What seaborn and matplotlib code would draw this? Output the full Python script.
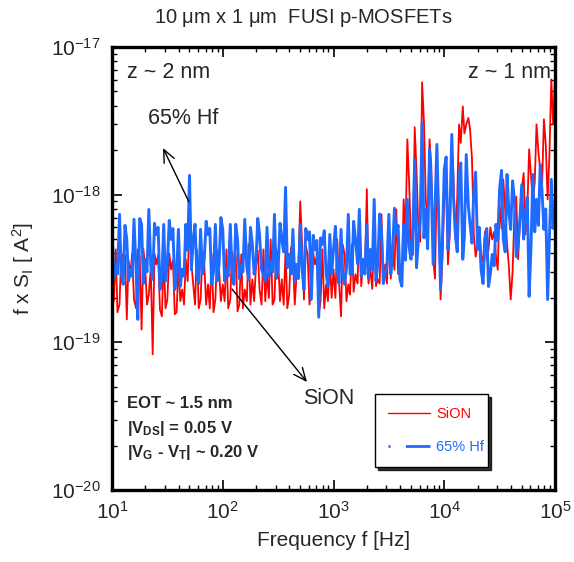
import matplotlib
matplotlib.use("Agg")
import matplotlib.pyplot as plt
from matplotlib.lines import Line2D
from matplotlib.ticker import NullFormatter, LogLocator
import seaborn as sns
import pandas as pd
import numpy as np

# ---- data ----
freq_hz = [
    10.0, 10.4, 10.8, 11.2, 11.7, 12.1, 12.6, 13.1, 13.6, 14.1, 14.7, 15.2, 15.8, 16.5, 17.1,
    17.8, 18.5, 19.2, 20.0, 20.7, 21.5, 22.4, 23.3, 24.2, 25.1, 26.1, 27.1, 28.2, 29.3, 30.4,
    31.6, 32.9, 34.1, 35.5, 36.9, 38.3, 39.8, 41.4, 43.0, 44.7, 46.4, 48.2, 50.1, 52.1, 54.1,
    56.2, 58.4, 60.7, 63.1, 65.6, 68.1, 70.8, 73.6, 76.4, 79.4, 82.5, 85.8, 89.1, 92.6, 96.2,
    100, 104, 108, 112, 117, 121, 126, 131, 136, 141, 147, 152, 158, 165, 171,
    178, 185, 192, 200, 207, 215, 224, 233, 242, 251, 261, 271, 282, 293, 304,
    316, 329, 341, 355, 369, 383, 398, 414, 430, 447, 464, 482, 501, 521, 541,
    562, 584, 607, 631, 656, 681, 708, 736, 764, 794, 825, 858, 891, 926, 962,
    1000, 1040, 1080, 1120, 1170, 1210, 1260, 1310, 1360, 1410, 1470, 1520, 1580, 1650, 1710,
    1780, 1850, 1920, 2000, 2070, 2150, 2240, 2330, 2420, 2510, 2610, 2710, 2820, 2930, 3040,
    3160, 3290, 3410, 3550, 3690, 3830, 3980, 4140, 4300, 4470, 4640, 4820, 5010, 5210, 5410,
    5620, 5840, 6070, 6310, 6560, 6810, 7080, 7360, 7640, 7940, 8250, 8580, 8910, 9260, 9620,
    10000, 10400, 10800, 11200, 11700, 12100, 12600, 13100, 13600, 14100, 14700, 15200, 15800, 16500, 17100,
    17800, 18500, 19200, 20000, 20700, 21500, 22400, 23300, 24200, 25100, 26100, 27100, 28200, 29300, 30400,
    31600, 32900, 34100, 35500, 36900, 38300, 39800, 41400, 43000, 44700, 46400, 48200, 50100, 52100, 54100,
    56200, 58400, 60700, 63100, 65600, 68100, 70800, 73600, 76400, 79400, 82500, 85800, 89100, 92600, 96200,
    100000,
]

# f x S_I in units of 1e-19 A^2
sion_e19 = [
    2.67, 1.9, 4.26, 1.6, 1.81, 4.1, 3.65, 3.9, 1.43, 3.6, 2.89, 4.0, 1.95, 1.7, 4.26, 3.8, 1.22, 4.3, 3.12, 1.8,
    2.11, 3.2, 0.83, 4.0, 3.37, 3.9, 1.67, 1.5, 3.94, 1.7, 1.95, 4.0, 3.12, 3.6, 1.55, 1.6, 3.37, 1.9, 2.28, 1.8,
    3.65, 2.6, 7.13, 3.4, 2.47, 1.8, 4.26, 1.7, 1.95, 4.1, 3.37, 1.8, 2.47, 1.7, 3.94, 1.6, 1.95, 4.2, 3.12, 1.9,
    2.47, 1.9, 4.26, 1.7, 1.95, 4.1, 3.37, 3.9, 1.62, 1.8, 3.94, 1.7, 2.28, 1.9, 4.61, 1.8, 2.67, 1.9, 3.37, 4.2,
    2.28, 1.8, 4.26, 1.9, 2.89, 2.0, 4.98, 1.8, 1.95, 4.3, 3.65, 1.9, 2.67, 1.8, 4.26, 1.7, 2.11, 4.4, 3.65, 1.8,
    2.89, 3.3, 9.01, 4.6, 1.95, 4.5, 3.94, 1.8, 2.28, 4.0, 3.37, 3.9, 1.55, 1.9, 4.26, 1.7, 2.47, 1.9, 3.65, 2.0,
    3.12, 2.0, 4.98, 2.6, 1.50, 4.6, 3.94, 1.9, 2.47, 2.1, 4.61, 2.2, 2.89, 2.5, 7.36, 2.4, 3.53, 2.9, 10.9, 2.5,
    3.12, 2.3, 5.82, 2.4, 2.67, 2.5, 7.36, 2.6, 3.37, 2.5, 6.29, 2.7, 4.26, 3.1, 7.95, 2.9, 3.37, 2.6, 9.29, 5.4,
    23.7, 12.0, 4.61, 3.9, 28.6, 14.5, 5.82, 4.8, 57.6, 31.0, 9.29, 6.1, 23.7, 15.8, 3.65, 2.7, 13.7, 8.3, 1.95, 3.6,
    9.29, 12.2, 3.37, 5.3, 20.3, 13.5, 4.98, 9.6, 29.9, 22.4, 39.6, 26.0, 29.9, 33.1, 27.7, 17.5, 5.38, 3.8, 4.61, 5.9,
    3.94, 3.5, 5.64, 3.6, 4.26, 6.0, 4.98, 5.6, 3.82, 3.1, 8.60, 5.9, 12.7, 7.9, 4.61, 3.3, 1.95, 3.0, 7.36, 9.7,
    3.65, 6.2, 10.9, 14.0, 5.38, 7.8, 20.3, 13.4, 9.29, 12.0, 29.9, 19.5, 14.8, 11.2, 32.4, 22.0, 9.29, 18.6, 60.4, 30.0,
    63.2,
]

hf65_e19 = [
    5.82, 2.7, 3.37, 2.9, 7.36, 3.0, 2.47, 6.2, 4.98, 2.6, 3.12, 2.8, 6.81, 3.1, 1.43, 6.9, 6.29, 2.5, 3.65, 3.0,
    7.95, 3.3, 2.67, 6.4, 5.38, 6.0, 2.28, 2.7, 6.29, 2.6, 3.37, 6.7, 4.98, 5.9, 2.28, 2.9, 5.82, 2.4, 3.12, 2.8,
    6.29, 4.2, 13.5, 3.1, 4.98, 6.3, 2.89, 2.5, 5.82, 2.9, 3.65, 6.6, 5.38, 5.9, 2.47, 3.0, 6.29, 2.6, 3.37, 7.0,
    5.82, 2.6, 3.12, 2.8, 6.29, 3.1, 2.47, 6.3, 4.98, 2.7, 3.37, 3.0, 6.81, 3.2, 2.67, 6.0, 4.61, 2.9, 3.65, 6.9,
    5.38, 3.1, 2.89, 2.6, 6.01, 2.8, 3.53, 3.0, 7.36, 2.7, 3.12, 6.4, 4.98, 4.1, 11.2, 3.2, 3.94, 2.9, 5.82, 2.6,
    3.37, 2.7, 6.29, 3.1, 2.28, 5.9, 4.98, 5.6, 1.95, 5.3, 4.26, 4.9, 1.48, 5.1, 4.61, 5.7, 2.89, 2.4, 5.38, 2.9,
    4.26, 6.1, 3.12, 2.5, 5.82, 3.0, 2.47, 3.2, 7.36, 2.9, 2.89, 6.6, 4.98, 3.4, 7.95, 2.8, 3.65, 2.9, 6.29, 2.7,
    4.26, 3.1, 9.29, 2.6, 3.37, 7.4, 5.82, 2.5, 2.89, 3.3, 7.36, 2.9, 3.94, 8.1, 5.38, 6.2, 2.67, 2.4, 6.29, 3.6,
    9.29, 4.4, 3.65, 5.8, 17.3, 3.2, 4.98, 6.9, 30.9, 5.1, 7.95, 4.3, 20.3, 11.5, 3.37, 8.2, 21.9, 6.9, 2.28, 4.9,
    14.8, 18.0, 4.26, 6.3, 25.6, 9.8, 5.38, 4.1, 12.7, 16.4, 3.65, 5.2, 18.7, 8.4, 6.29, 4.7, 10.9, 14.2, 4.26, 6.0,
    3.12, 2.5, 4.98, 5.9, 2.39, 2.9, 3.94, 3.3, 6.29, 4.9, 10.9, 14.6, 4.98, 4.1, 13.7, 7.7, 5.82, 12.4, 9.29, 3.8,
    4.61, 6.9, 11.7, 5.0, 7.36, 9.6, 2.05, 4.4, 13.7, 5.6, 9.29, 6.2, 16.0, 10.5, 5.82, 8.0, 1.95, 5.2, 12.7, 5.9,
    8.60,
]

series_names = ["SiON", "65% Hf"]
series_colors = ["#ff0000", "#1f6bff"]
x_ticks = [1e1, 1e2, 1e3, 1e4, 1e5]
y_ticks = [1e-20, 1e-19, 1e-18, 1e-17]

# ---- style ----
sns.set_style("ticks")
plt.rcParams["font.family"] = ["Liberation Sans", "DejaVu Sans"]
plt.rcParams["mathtext.fontset"] = "custom"
plt.rcParams["mathtext.rm"] = "Liberation Sans"
plt.rcParams["mathtext.it"] = "Liberation Sans:italic"
plt.rcParams["mathtext.bf"] = "Liberation Sans:bold"
plt.rcParams["lines.scale_dashes"] = False
plt.rcParams["axes.unicode_minus"] = False

W, H = 574, 562
fig = plt.figure(figsize=(W / 100, H / 100), dpi=100)
ax = fig.add_axes([112 / W, 1 - 490 / H, 443 / W, 443 / H])

def fp(x, y):
    return (x / W, 1 - y / H)

df_sion = pd.DataFrame({"f": freq_hz, "S": np.array(sion_e19) * 1e-19})
df_hf = pd.DataFrame({"f": freq_hz, "S": np.array(hf65_e19) * 1e-19})

sns.lineplot(data=df_sion, x="f", y="S", ax=ax, color=series_colors[0],
             linewidth=1.3, estimator=None, sort=False)
sns.lineplot(data=df_hf, x="f", y="S", ax=ax, color=series_colors[1],
             linewidth=2.1, estimator=None, sort=False)

ax.set_xscale("log")
ax.set_yscale("log")
ax.set_xlim(x_ticks[0], x_ticks[-1])
ax.set_ylim(y_ticks[0], y_ticks[-1])
ax.set_xticks(x_ticks)
ax.set_yticks(y_ticks)
ax.xaxis.set_minor_locator(LogLocator(base=10, subs=range(2, 10)))
ax.yaxis.set_minor_locator(LogLocator(base=10, subs=range(2, 10)))
ax.xaxis.set_minor_formatter(NullFormatter())
ax.yaxis.set_minor_formatter(NullFormatter())

for s in ax.spines.values():
    s.set_linewidth(2.4)
    s.set_color("black")
ax.tick_params(which="both", direction="in", top=True, right=True, color="black")
ax.tick_params(which="major", length=7, width=1.2, labelsize=15, pad=8)
ax.tick_params(which="minor", length=3.5, width=1.0)

ax.set_xlabel("Frequency f [Hz]", fontsize=15, labelpad=6)
ax.set_ylabel(r"f x S$_\mathregular{I}$ [ A$^\mathregular{2}$]", fontsize=15, labelpad=11)

fig.text(*fp(303, 18), r"10 $\mathregular{\mu}$m x 1 $\mathregular{\mu}$m  FUSI p-MOSFETs",
         ha="center", va="center", fontsize=14.5)

ax.text(*fp(127, 72), "z ~ 2 nm", transform=fig.transFigure, ha="left", va="center", fontsize=15.5)
ax.text(*fp(551, 73), "z ~ 1 nm", transform=fig.transFigure, ha="right", va="center", fontsize=15.5)

arrow = dict(arrowstyle="->,head_length=0.9,head_width=0.4", lw=1.0, color="black",
             shrinkA=0, shrinkB=0)
ax.annotate("", xy=fp(163, 148), xycoords="figure fraction",
            xytext=fp(189, 202), textcoords="figure fraction", arrowprops=arrow)
ax.annotate("", xy=fp(307, 382), xycoords="figure fraction",
            xytext=fp(232, 289), textcoords="figure fraction", arrowprops=arrow)
fig.text(*fp(183, 118), "65% Hf", ha="center", va="center", fontsize=15.5)
fig.text(*fp(329, 398), "SiON", ha="center", va="center", fontsize=15.5)

fig.text(*fp(127, 404), "EOT ~ 1.5 nm", ha="left", va="center", fontsize=12, fontweight="bold")
fig.text(*fp(127, 428), r"|V$_\mathbf{DS}$| = 0.05 V", ha="left", va="center",
         fontsize=12, fontweight="bold")
fig.text(*fp(127, 452), r"|V$_\mathbf{G}$ - V$_\mathbf{T}$| ~ 0.20 V", ha="left", va="center",
         fontsize=12, fontweight="bold")

handles = [
    Line2D([], [], color=series_colors[0], lw=1.0),
    Line2D([], [], color=series_colors[1], lw=2.0, linestyle=(0, (1.5, 11, 18, 10))),
]
leg = ax.legend(handles, series_names, loc="lower left",
                bbox_to_anchor=((375 - 112) / 443, (490 - 467) / 443, 113 / 443, 67 / 443),
                mode="expand", fontsize=10.5, handlelength=2.9, handletextpad=0.4,
                labelspacing=1.3, borderpad=0.9, frameon=True, fancybox=False,
                shadow={"color": "black", "alpha": 0.8}, labelcolor="linecolor",
                borderaxespad=0)
leg.get_frame().set_edgecolor("black")
leg.get_frame().set_linewidth(1.0)
leg.get_frame().set_alpha(1)

fig.savefig("out.png", dpi=100)
